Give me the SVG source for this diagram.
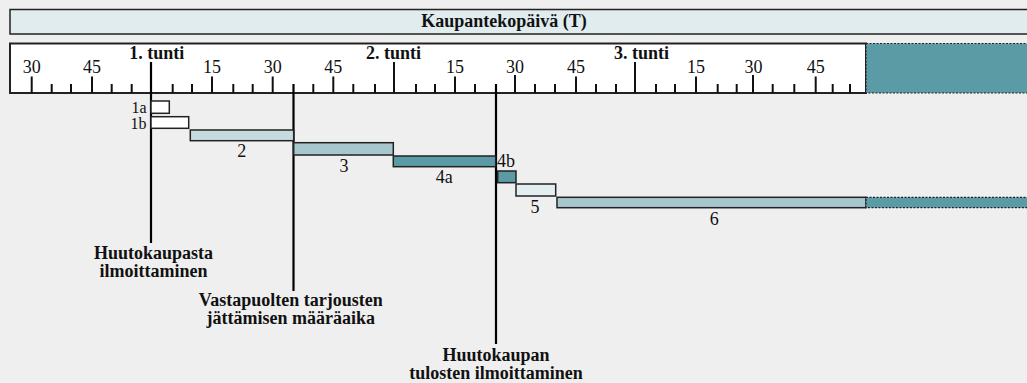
<svg xmlns="http://www.w3.org/2000/svg" width="1027" height="383" viewBox="0 0 1027 383">
<style>
.t{font-family:'Liberation Serif','Times New Roman','DejaVu Serif',serif;font-size:18px;fill:#111}
.b{font-weight:bold}
.m{text-anchor:middle}
.r{text-anchor:end}
.s{font-size:16px}
.tick{stroke:#111;stroke-width:2}
.bar{stroke:#222;stroke-width:1.5}
.dot{stroke:#222;stroke-width:1.2;stroke-dasharray:2 1.5}
.vl{stroke:#000;stroke-width:2.2}
</style>
<rect width="1027" height="383" fill="#efefef"/>
<g id="header">
<rect x="10" y="9.5" width="1030" height="24.5" fill="#e0ecee" stroke="#222" stroke-width="1.5"/>
<text class="t b m" x="504" y="27" font-family="Liberation Serif, serif">Kaupantekopäivä (T)</text>
</g>
<g id="ruler">
<rect x="10" y="43.5" width="856" height="49.5" fill="#fff" stroke="#222" stroke-width="2"/>
<rect x="866" y="43.5" width="170" height="49.5" fill="#5a9ba6" class="dot"/>
<g class="tick">
<path d="M31.7 93V76.5M92 93V76.5M212 93V76.5M272.7 93V76.5M333.3 93V76.5M455 93V76.5M515 93V75M576 93V76.5M696 93V76.5M753 93V75M815.7 93V76.5"/>
<path d="M151 93V62M394 93V62M635 93V62"/>
<path d="M51.7 93V84M71 93V84M111.7 93V84M131.7 93V84M172.7 93V84M192 93V84M233.3 93V84M252.7 93V84M313.3 93V84M353.3 93V84M375 93V84M416 93V84M435 93V84M475 93V84M535 93V84M555 93V84M596 93V84M616 93V84M656 93V84M675 93V84M717.7 93V84M736.7 93V84M772.7 93V84M794.3 93V84M832.7 93V84M850 93V84"/>
</g>
<g class="t m">
<text x="31.7" y="73">30</text><text x="92" y="73">45</text><text x="212" y="73">15</text><text x="272.7" y="73">30</text><text x="333.3" y="73">45</text>
<text x="455" y="73">15</text><text x="515" y="73">30</text><text x="576" y="73">45</text>
<text x="696" y="73">15</text><text x="753.5" y="73">30</text><text x="815.7" y="73">45</text>
</g>
<g class="t b m">
<text x="156.7" y="59">1. tunti</text><text x="393.5" y="59">2. tunti</text><text x="641.5" y="59">3. tunti</text>
</g>
</g>
<g id="connectors">
<line class="vl" x1="151" y1="62" x2="151" y2="243"/>
<line class="vl" x1="293.5" y1="84" x2="293.5" y2="291"/>
<line class="vl" x1="496" y1="84" x2="496" y2="344"/>
</g>
<g id="bar-1a"><rect class="bar" x="151" y="101" width="18.3" height="12.3" fill="#fff"/><text class="t s r" x="146.5" y="112.5">1a</text></g>
<g id="bar-1b"><rect class="bar" x="151" y="116.7" width="37.7" height="11.6" fill="#fff"/><text class="t s r" x="146.5" y="129">1b</text></g>
<g id="bar-2"><rect class="bar" x="190.3" y="130" width="103.4" height="10.7" fill="#c5dbdf"/><text class="t m" x="241.7" y="156.5">2</text></g>
<g id="bar-3"><rect class="bar" x="293.7" y="142.7" width="99.6" height="12.3" fill="#a6c7cd"/><text class="t m" x="344" y="171.5">3</text></g>
<g id="bar-4a"><rect class="bar" x="393.3" y="156" width="102.4" height="10.7" fill="#5a9ba6"/><text class="t m" x="444.3" y="183">4a</text></g>
<g id="bar-4b"><rect class="bar" x="497.7" y="171" width="18.3" height="11.7" fill="#5a9ba6"/><text class="t" x="497" y="166.5">4b</text></g>
<g id="bar-5"><rect class="bar" x="516" y="184" width="39.7" height="12" fill="#e2eeef"/><text class="t m" x="535" y="212.5">5</text></g>
<g id="bar-6"><rect class="bar" x="557" y="197.3" width="309" height="10.4" fill="#a6c7cd"/><rect class="dot" x="866" y="197.3" width="170" height="10.4" fill="#5a9ba6"/><text class="t m" x="714.3" y="225">6</text></g>
<g id="label-1"><text class="t b m" x="153.5" y="259">Huutokaupasta</text><text class="t b m" x="153.5" y="277">ilmoittaminen</text></g>
<g id="label-2"><text class="t b m" x="290.8" y="306">Vastapuolten tarjousten</text><text class="t b m" x="290.8" y="324">jättämisen määräaika</text></g>
<g id="label-3"><text class="t b m" x="496" y="361">Huutokaupan</text><text class="t b m" x="496" y="379">tulosten ilmoittaminen</text></g>
</svg>
